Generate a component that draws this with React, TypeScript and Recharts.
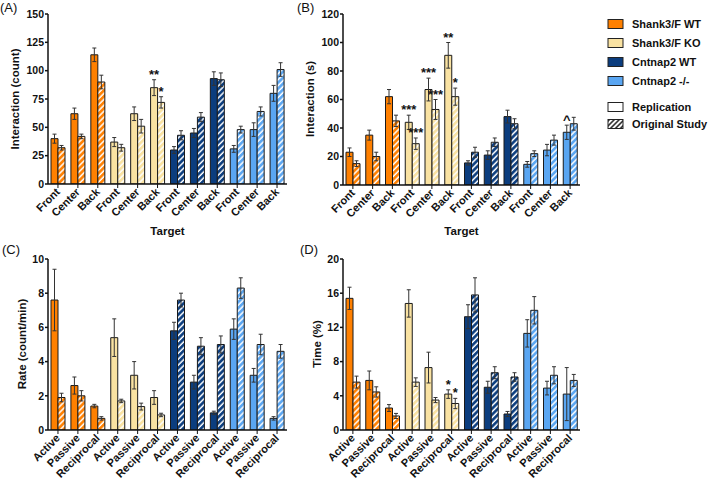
import React from 'react';
import { BarChart, Bar, XAxis, YAxis, ErrorBar, Cell, LabelList } from 'recharts';

const groupNames = ['Shank3/F WT', 'Shank3/F KO', 'Cntnap2 WT', 'Cntnap2 -/-'];
const groupColors = ['#FF8000', '#F9E2A2', '#0B3D7E', '#5AA6F2'];
const targetLabels = ['Front', 'Center', 'Back'];
const behaviorLabels = ['Active', 'Passive', 'Reciprocal'];

// Panel A: Interaction (count)
const countRep = [40, 62, 114, 37, 62, 85, 30, 45, 93, 31, 48, 80];
const countRepErr = [4, 5, 6, 4, 6, 7, 3, 4, 6, 3, 6, 7];
const countOrig = [32, 42, 90, 32, 51, 72, 43, 59, 92, 48, 64, 101];
const countOrigErr = [2, 2, 6, 3, 6, 5, 4, 4, 6, 3, 4, 6];
const countRepSig = ['', '', '', '', '', '**', '', '', '', '', '', ''];
const countOrigSig = ['', '', '', '', '', '*', '', '', '', '', '', ''];
const countTicks = [0, 25, 50, 75, 100, 125, 150];

// Panel B: Interaction (s)
const secRep = [23, 35, 62, 44, 67, 91, 15.5, 21, 48, 14.5, 24.5, 37];
const secRepErr = [3, 3.5, 5, 5, 8, 9, 1.5, 3, 4.5, 2, 4, 5];
const secOrig = [15, 20, 45, 29, 53, 62, 23, 30, 43, 22, 31.5, 43];
const secOrigErr = [2, 3, 4, 4, 7, 6, 3.5, 3, 3.5, 2, 3.5, 4.5];
const secRepSig = ['', '', '', '***', '***', '**', '', '', '', '', '', '^'];
const secOrigSig = ['', '', '', '***', '***', '*', '', '', '', '', '', ''];
const secTicks = [0, 20, 40, 60, 80, 100, 120];

// Panel C: Rate (count/min)
const rateRep = [7.6, 2.6, 1.4, 5.4, 3.2, 1.9, 5.8, 2.8, 1.0, 5.9, 3.2, 0.68];
const rateRepErr = [1.8, 0.5, 0.1, 1.1, 0.8, 0.4, 0.5, 0.4, 0.1, 0.6, 0.4, 0.1];
const rateOrig = [1.9, 2.0, 0.68, 1.7, 1.37, 0.88, 7.6, 4.9, 5.0, 8.3, 5.0, 4.6];
const rateOrigErr = [0.25, 0.3, 0.1, 0.1, 0.2, 0.1, 0.4, 0.5, 0.5, 0.6, 0.6, 0.4];
const rateRepSig = ['', '', '', '', '', '', '', '', '', '', '', ''];
const rateOrigSig = ['', '', '', '', '', '', '', '', '', '', '', ''];
const rateTicks = [0, 2, 4, 6, 8, 10];

// Panel D: Time (%)
const timeRep = [15.4, 5.8, 2.57, 14.8, 7.3, 4.2, 13.25, 5.0, 1.87, 11.3, 4.9, 4.2];
const timeRepErr = [1.3, 1.1, 0.4, 1.6, 1.8, 0.5, 1.4, 0.7, 0.3, 1.6, 0.8, 3.1];
const timeOrig = [5.6, 4.45, 1.64, 5.6, 3.5, 3.1, 15.8, 6.7, 6.2, 14.0, 6.4, 5.8];
const timeOrigErr = [0.7, 0.6, 0.3, 0.5, 0.3, 0.6, 2, 0.7, 0.5, 1.6, 1.0, 0.7];
const timeRepSig = ['', '', '', '', '', '*', '', '', '', '', '', ''];
const timeOrigSig = ['', '', '', '', '', '*', '', '', '', '', '', ''];
const timeTicks = [0, 4, 8, 12, 16, 20];

const FONT = '"Liberation Sans", Arial, Helvetica, sans-serif';

type Row = {
  key: string; label: string; group: number;
  rep: number; repErr: number; orig: number; origErr: number;
  repSig: string; origSig: string;
};

function makeRows(labels: string[], rep: number[], repErr: number[], orig: number[], origErr: number[], repSig: string[], origSig: string[]): Row[] {
  return rep.map((v, i) => ({
    key: `${i}|${labels[i % 3]}`,
    label: labels[i % 3],
    group: Math.floor(i / 3),
    rep: v, repErr: repErr[i], orig: orig[i], origErr: origErr[i],
    repSig: repSig[i], origSig: origSig[i],
  }));
}

const XTick = (props: any) => {
  const { x, y, payload } = props;
  const label = String(payload.value).split('|')[1];
  return (
    <g transform={`translate(${x},${y})`}>
      <text x={0} y={0} dy="0.35em" transform="rotate(-45)" textAnchor="end"
        fontFamily={FONT} fontSize={11} fontWeight="bold" fill="#111">{label}</text>
    </g>
  );
};

const sigContent = (rows: Row[], which: 'rep' | 'orig') => (props: any) => {
  const { x, y, width, height, index } = props;
  const row = rows[index];
  if (!row) return null;
  const sig = which === 'rep' ? row.repSig : row.origSig;
  if (!sig) return null;
  const val = which === 'rep' ? row.rep : row.orig;
  const err = which === 'rep' ? row.repErr : row.origErr;
  const ppu = Math.abs(height) / val;
  const top = Math.min(y, y + height) - err * ppu;
  return (
    <text x={x + width / 2} y={top - 1} textAnchor="middle" fontFamily={FONT}
      fontSize={13} fontWeight="bold" fill="#111">{sig}</text>
  );
};

type PanelProps = {
  id: string; rows: Row[]; domain: [number, number]; ticks: number[];
  left: number; top: number; width: number; height: number; xAxisHeight: number; bottom: number;
};

const Panel = ({ id, rows, domain, ticks, left, top, width, height, xAxisHeight, bottom }: PanelProps) => (
  <div style={{ position: 'absolute', left, top, width, height }}>
    <BarChart width={width} height={height} data={rows} barGap={0}
      margin={{ top: 14, right: 5, bottom, left: 0 }} style={{ overflow: 'visible' }}>
      <defs>
        {groupColors.map((c, g) => (
          <pattern key={g} id={`${id}-hatch-${g}`} patternUnits="userSpaceOnUse" width="4.2" height="4.2"
            patternTransform="rotate(45)">
            <rect x="0" y="0" width="4.2" height="4.2" fill={c} />
            <line x1="1" y1="0" x2="1" y2="4.2" stroke="#ffffff" strokeWidth="1.5" />
          </pattern>
        ))}
      </defs>
      <XAxis dataKey="key" height={xAxisHeight} interval={0} tick={<XTick />}
        tickSize={4} tickMargin={2}
        axisLine={{ stroke: '#111', strokeWidth: 1.5 }} tickLine={{ stroke: '#111', strokeWidth: 1 }} />
      <YAxis width={48} domain={domain} ticks={ticks} interval={0} tickSize={3} tickMargin={1}
        tick={{ fontFamily: FONT, fontSize: 10.5, fontWeight: 'bold', fill: '#111' }}
        axisLine={{ stroke: '#111', strokeWidth: 1.5 }} tickLine={{ stroke: '#111', strokeWidth: 1.5 }}
        allowDataOverflow />
      <Bar dataKey="rep" barSize={7} stroke="#1a1a1a" strokeWidth={1} isAnimationActive={false}>
        {rows.map((r, i) => <Cell key={i} fill={groupColors[r.group]} />)}
        <ErrorBar dataKey="repErr" width={2} stroke="#333" strokeWidth={1} />
        <LabelList dataKey="repSig" content={sigContent(rows, 'rep')} />
      </Bar>
      <Bar dataKey="orig" barSize={7} stroke="#1a1a1a" strokeWidth={1} isAnimationActive={false}>
        {rows.map((r, i) => <Cell key={i} fill={`url(#${id}-hatch-${r.group})`} />)}
        <ErrorBar dataKey="origErr" width={2} stroke="#333" strokeWidth={1} />
        <LabelList dataKey="origSig" content={sigContent(rows, 'orig')} />
      </Bar>
    </BarChart>
  </div>
);

const rowsA = makeRows(targetLabels, countRep, countRepErr, countOrig, countOrigErr, countRepSig, countOrigSig);
const rowsB = makeRows(targetLabels, secRep, secRepErr, secOrig, secOrigErr, secRepSig, secOrigSig);
const rowsC = makeRows(behaviorLabels, rateRep, rateRepErr, rateOrig, rateOrigErr, rateRepSig, rateOrigSig);
const rowsD = makeRows(behaviorLabels, timeRep, timeRepErr, timeOrig, timeOrigErr, timeRepSig, timeOrigSig);

const legendRows = [24, 43, 62, 81];

export default function App() {
  return (
    <div style={{ position: 'absolute', left: 0, top: 0, width: 709, height: 480, background: '#fff', overflow: 'hidden' }}>
      <Panel id="pa" rows={rowsA} domain={[0, 150]} ticks={countTicks} left={0} top={0} width={292} height={240} xAxisHeight={50} bottom={6} />
      <Panel id="pb" rows={rowsB} domain={[0, 120]} ticks={secTicks} left={295} top={0} width={290} height={240} xAxisHeight={50} bottom={5} />
      <Panel id="pc" rows={rowsC} domain={[0, 10]} ticks={rateTicks} left={0} top={245} width={292} height={235} xAxisHeight={45} bottom={5} />
      <Panel id="pd" rows={rowsD} domain={[0, 20]} ticks={timeTicks} left={295} top={245} width={290} height={235} xAxisHeight={45} bottom={5} />
      <svg width={709} height={480} style={{ position: 'absolute', left: 0, top: 0, pointerEvents: 'none' }}>
        <defs>
          <pattern id="legend-hatch" patternUnits="userSpaceOnUse" width="3.5" height="3.5" patternTransform="rotate(45)">
            <rect x="0" y="0" width="3.5" height="3.5" fill="#fff" />
            <line x1="1" y1="0" x2="1" y2="3.5" stroke="#111" strokeWidth="1.4" />
          </pattern>
        </defs>
        <g fontFamily={FONT} fill="#111">
          <text x={0} y={12} fontSize={13}>(A)</text>
          <text x={297} y={12} fontSize={13}>(B)</text>
          <text x={2} y={254} fontSize={13}>(C)</text>
          <text x={300} y={254} fontSize={13}>(D)</text>
          <text transform="translate(15,99) rotate(-90)" textAnchor="middle" dominantBaseline="central" fontSize={11.5} fontWeight="bold">Interaction (count)</text>
          <text transform="translate(310,99) rotate(-90)" textAnchor="middle" dominantBaseline="central" fontSize={11.5} fontWeight="bold">Interaction (s)</text>
          <text transform="translate(22,344) rotate(-90)" textAnchor="middle" dominantBaseline="central" fontSize={11.5} fontWeight="bold">Rate (count/min)</text>
          <text transform="translate(317,344) rotate(-90)" textAnchor="middle" dominantBaseline="central" fontSize={11.5} fontWeight="bold">Time (%)</text>
          <text x={167.5} y={235} textAnchor="middle" fontSize={11.5} fontWeight="bold">Target</text>
          <text x={461.5} y={235} textAnchor="middle" fontSize={11.5} fontWeight="bold">Target</text>
          {legendRows.map((cy, i) => (
            <g key={i}>
              <rect x={608} y={cy - 4.5} width={15} height={9} fill={groupColors[i]} stroke="#222" strokeWidth={1} />
              <text x={632} y={cy + 4} fontSize={11} fontWeight="bold">{groupNames[i]}</text>
            </g>
          ))}
          <rect x={608} y={102.5} width={15} height={9} fill="#fff" stroke="#222" strokeWidth={1} />
          <text x={632} y={111} fontSize={11} fontWeight="bold">Replication</text>
          <rect x={608} y={119.5} width={15} height={9} fill="url(#legend-hatch)" stroke="#222" strokeWidth={1} />
          <text x={632} y={128} fontSize={11} fontWeight="bold">Original Study</text>
        </g>
      </svg>
    </div>
  );
}
